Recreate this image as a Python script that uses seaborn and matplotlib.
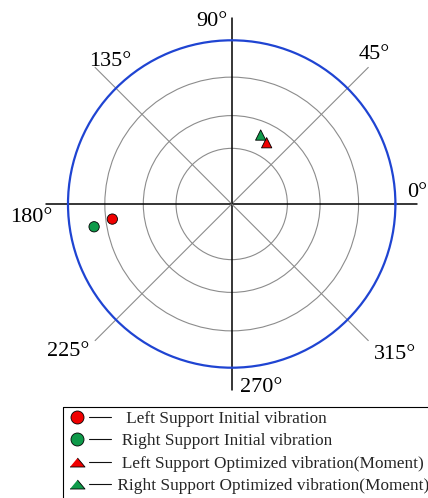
import numpy as np
import pandas as pd
import matplotlib
matplotlib.use("Agg")
import matplotlib.pyplot as plt
from matplotlib.lines import Line2D
from matplotlib.legend_handler import HandlerBase
import seaborn as sns

# Vibration vectors: amplitude (same scale as the rings) and phase in degrees
series = [
    "Left Support Initial vibration",
    "Right Support Initial vibration",
    "Left Support Optimized vibration(Moment)",
    "Right Support Optimized vibration(Moment)",
]
amplitude = [73.5, 85.2, 43.1, 45.7]
phase_deg = [187.2, 189.4, 60.3, 67.2]

ring_values = [34, 54, 77.5]
r_outer = 100

angle_ticks = [0, 45, 90, 135, 180, 225, 270, 315]
angle_labels = ["0°", "45°", "90°", "135°", "180°", "225°", "270°", "315°"]

colors = {series[0]: "#f00000", series[1]: "#0f9a4a",
          series[2]: "#f00000", series[3]: "#0f9a4a"}
markers = {series[0]: "o", series[1]: "o", series[2]: "^", series[3]: "^"}

df = pd.DataFrame({
    "series": series,
    "theta": np.deg2rad(phase_deg),
    "r": amplitude,
})

sns.set_style("white")
plt.rcParams["font.family"] = ["Liberation Serif", "DejaVu Serif"]

fig = plt.figure(figsize=(4.28, 4.98), dpi=100)
fig.patch.set_facecolor("white")

# polar axes: centre at (231.7, 204) px, outer circle radius ~164 px
W, H = 428, 498
cx, cy, R = 231.7, 204.0, 163.7
ax = fig.add_axes([(cx - R) / W, 1 - (cy + R) / H, 2 * R / W, 2 * R / H],
                  projection="polar")
ax.set_facecolor("white")
ax.set_ylim(0, r_outer)
ax.set_yticks(ring_values)
ax.set_yticklabels([])
ax.set_xticks([])
ax.yaxis.grid(True, color="#8c8c8c", linewidth=0.8)
ax.xaxis.grid(False)
ax.spines["polar"].set_color("#1f44d2")
ax.spines["polar"].set_linewidth(1.6)

# spokes: black main axes, grey diagonals, both reaching past the rim
for deg in angle_ticks:
    t = np.deg2rad(deg)
    if deg % 90 == 0:
        ax.plot([t, t], [0, 113.5], color="black", lw=1.1, clip_on=False, zorder=2)
    else:
        ax.plot([t, t], [0, 118], color="#8c8c8c", lw=0.8, clip_on=False, zorder=2)

sns.scatterplot(data=df, x="theta", y="r", hue="series", style="series",
                palette=colors, markers=markers, s=55, edgecolor="black",
                linewidth=0.6, legend=False, ax=ax, zorder=5, clip_on=False)
ax.set_xlabel("")
ax.set_ylabel("")

# angle labels, offset in pixels from the pole
label_offsets = [(185.3, 11.5), (142.8, 150), (-20.2, 182.3), (-121.7, 142.5),
                 (-200, -13.5), (-163.2, -147.7), (29.3, -183.5), (163.3, -150)]
for lab, (dx, dy) in zip(angle_labels, label_offsets):
    ax.annotate(lab, xy=(0, 0), xytext=(dx, dy), textcoords="offset pixels",
                ha="center", va="center", fontsize=16, color="black",
                annotation_clip=False)


# legend key: marker followed by a short dash
PT = 72 / 100  # points per pixel
flat_triangle = [(-1, -0.6), (1, -0.6), (0, 0.6)]
fs = 12.4
pad_px = 3.5


class MarkerDash(HandlerBase):
    def create_artists(self, legend, orig_handle, xdescent, ydescent,
                       width, height, fontsize, trans):
        y = height / 2 - ydescent
        x0 = -xdescent
        is_tri = orig_handle.get_marker() == "^"
        key = Line2D([x0 + (14 - pad_px) * PT], [y], linestyle="none",
                     marker=flat_triangle if is_tri else "o",
                     markersize=15 * PT if is_tri else 13 * PT,
                     markerfacecolor=orig_handle.get_markerfacecolor(),
                     markeredgecolor="black", markeredgewidth=0.6,
                     transform=trans)
        dash = Line2D([x0 + (25.5 - pad_px) * PT, x0 + (48 - pad_px) * PT], [y, y],
                      color="#111111", lw=0.8, transform=trans)
        return [dash, key]


handles = [Line2D([], [], linestyle="none", marker=markers[s],
                  markerfacecolor=colors[s]) for s in series]
pads = ["   ", "  ", "  ", " "]
labels = [p + s for p, s in zip(pads, series)]
leg = fig.legend(handles, labels, loc="upper left",
                 bbox_to_anchor=(63 / W, 1 - 407 / H),
                 bbox_transform=fig.transFigure,
                 handler_map={Line2D: MarkerDash()},
                 frameon=False, borderaxespad=0, borderpad=pad_px * PT / fs,
                 fontsize=fs, handlelength=(50 - pad_px) * PT / fs,
                 handletextpad=0.0, labelspacing=0.38)

# legend box: left and top edges, running off the figure
x_left, y_top = 63 / W, 1 - 407 / H
fig.add_artist(Line2D([x_left, x_left], [-0.05, y_top], color="black", lw=0.8,
                      transform=fig.transFigure))
fig.add_artist(Line2D([x_left, 1.05], [y_top, y_top], color="black", lw=0.8,
                      transform=fig.transFigure))

fig.savefig("out.png", dpi=100)
